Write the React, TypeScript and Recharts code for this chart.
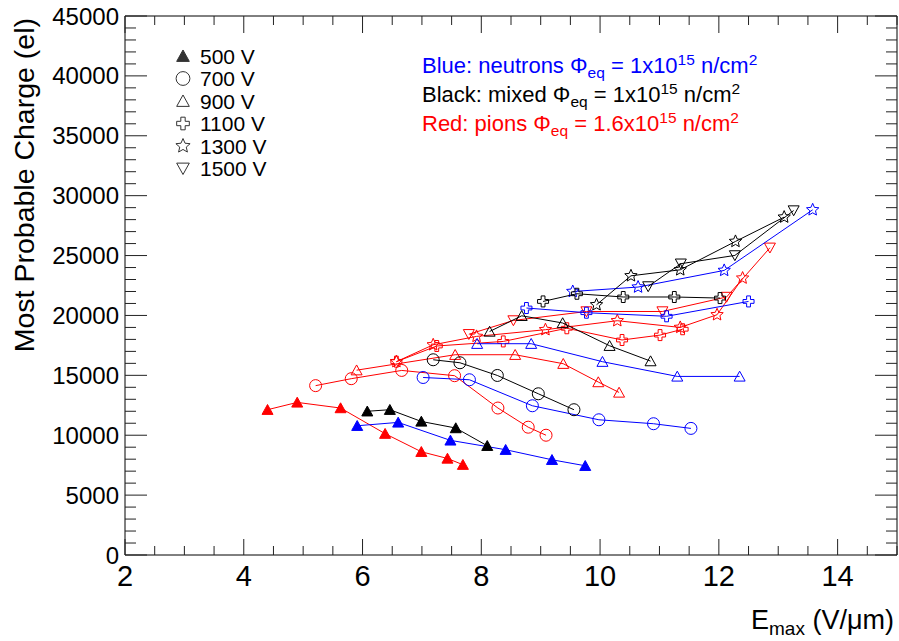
import { Scatter, ScatterChart, XAxis, YAxis } from "recharts";

const FONT = '"Liberation Sans", Arial, Helvetica, sans-serif';
const BLUE = "#0000ff";
const BLACK = "#000000";
const RED = "#ff0000";

// [E_max (V/um), most probable charge (el)]
const blue500 = [[5.91, 10790], [6.6, 11070], [7.48, 9570], [8.41, 8790], [9.19, 7950], [9.75, 7450]];
const black500 = [[6.08, 12000], [6.46, 12130], [6.99, 11150], [7.57, 10600], [8.1, 9120]];
const red500 = [[4.4, 12130], [4.9, 12740], [5.63, 12270], [6.38, 10130], [6.99, 8620], [7.43, 8060], [7.69, 7540]];

const blue700 = [[7.02, 14820], [7.8, 14630], [8.86, 12460], [9.98, 11290], [10.9, 10960], [11.53, 10570]];
const black700 = [[7.19, 16300], [7.64, 16050], [8.27, 14990], [8.96, 13460], [9.56, 12130]];
const red700 = [[5.21, 14140], [5.81, 14720], [6.66, 15410], [7.55, 14970], [8.28, 12270], [8.79, 10670], [9.09, 10000]];

const blue900 = [[7.93, 17640], [8.84, 17640], [10.04, 16140], [11.3, 14910], [12.35, 14910]];
const black900 = [[8.14, 18660], [8.68, 19970], [9.37, 19370], [10.16, 17470], [10.85, 16190]];
const red900 = [[5.9, 15430], [7.56, 16720], [8.57, 16720], [9.38, 15970], [9.97, 14440], [10.32, 13570]];

const blue1100 = [[8.76, 20620], [9.77, 20230], [11.12, 19930], [12.5, 21170]];
const black1100 = [[9.04, 21170], [9.61, 21810], [10.39, 21540], [11.25, 21540], [12.02, 21450]];
const red1100 = [[6.57, 16140], [7.25, 17450], [8.37, 17830], [9.44, 18930], [10.37, 17950], [11.01, 18360], [11.39, 18850]];

const blue1300 = [[9.54, 22000], [10.64, 22370], [12.09, 23760], [13.58, 28820]];
const black1300 = [[9.94, 20890], [10.52, 23310], [11.35, 23810], [12.28, 26180], [13.1, 28210]];
const red1300 = [[6.57, 16140], [7.19, 17550], [7.92, 18250], [9.08, 18810], [10.29, 19560], [11.35, 19000], [11.97, 20060], [12.4, 23120]];

const black1500 = [[10.81, 22420], [11.36, 24320], [12.27, 25010], [13.26, 28760]];
const red1500 = [[7.79, 18430], [8.54, 19580], [9.77, 20330], [11.05, 20330], [12.13, 21540], [12.86, 25650]];

const legendLabels = ["500 V", "700 V", "900 V", "1100 V", "1300 V", "1500 V"];
const legendMarkers = ["triFilled", "circle", "tri", "cross", "star", "triDown"];

const xTickLabels = [2, 4, 6, 8, 10, 12, 14];
const yTickLabels = [0, 5000, 10000, 15000, 20000, 25000, 30000, 35000, 40000, 45000];
const xTicks = Array.from({ length: 27 }, (_, i) => 2 + i * 0.5);
const yTicks = Array.from({ length: 46 }, (_, i) => i * 1000);

const series = [
  { id: "red500", data: red500, color: RED, marker: "triFilled" },
  { id: "red700", data: red700, color: RED, marker: "circle" },
  { id: "red900", data: red900, color: RED, marker: "tri" },
  { id: "red1100", data: red1100, color: RED, marker: "cross" },
  { id: "red1300", data: red1300, color: RED, marker: "star" },
  { id: "red1500", data: red1500, color: RED, marker: "triDown" },
  { id: "blue500", data: blue500, color: BLUE, marker: "triFilled" },
  { id: "blue700", data: blue700, color: BLUE, marker: "circle" },
  { id: "blue900", data: blue900, color: BLUE, marker: "tri" },
  { id: "blue1100", data: blue1100, color: BLUE, marker: "cross" },
  { id: "blue1300", data: blue1300, color: BLUE, marker: "star" },
  { id: "black500", data: black500, color: BLACK, marker: "triFilled" },
  { id: "black700", data: black700, color: BLACK, marker: "circle" },
  { id: "black900", data: black900, color: BLACK, marker: "tri" },
  { id: "black1100", data: black1100, color: BLACK, marker: "cross" },
  { id: "black1300", data: black1300, color: BLACK, marker: "star" },
  { id: "black1500", data: black1500, color: BLACK, marker: "triDown" },
];

const toPoints = (arr: number[][]) => arr.map(([x, y]) => ({ x, y }));

function Marker({ kind, cx, cy, color, s = 1 }: any) {
  const r = 5.5 * s;
  if (kind === "triFilled" || kind === "tri") {
    const pts = `${cx - r},${cy + r * 0.85} ${cx + r},${cy + r * 0.85} ${cx},${cy - r * 0.95}`;
    return <polygon points={pts} fill={kind === "tri" ? "none" : color} stroke={color} strokeWidth={1} />;
  }
  if (kind === "triDown") {
    const pts = `${cx - r},${cy - r * 0.85} ${cx + r},${cy - r * 0.85} ${cx},${cy + r * 0.95}`;
    return <polygon points={pts} fill="none" stroke={color} strokeWidth={1} />;
  }
  if (kind === "circle") {
    return <circle cx={cx} cy={cy} r={6 * s} fill="none" stroke={color} strokeWidth={1} />;
  }
  if (kind === "cross") {
    const a = 5.5 * s;
    const b = 1.9 * s;
    const pts = [
      [-b, -a], [b, -a], [b, -b], [a, -b], [a, b], [b, b],
      [b, a], [-b, a], [-b, b], [-a, b], [-a, -b], [-b, -b],
    ].map(([dx, dy]) => `${cx + dx},${cy + dy}`).join(" ");
    return <polygon points={pts} fill="none" stroke={color} strokeWidth={1} />;
  }
  // open star
  const pts = Array.from({ length: 10 }, (_, i) => {
    const ang = -Math.PI / 2 + (i * Math.PI) / 5;
    const rr = i % 2 === 0 ? 6.5 * s : 3 * s;
    return `${cx + rr * Math.cos(ang)},${cy + rr * Math.sin(ang)}`;
  }).join(" ");
  return <polygon points={pts} fill="none" stroke={color} strokeWidth={1} />;
}

const TICK = "#222";

const BottomTick = (props: any) => {
  const { x, y, payload } = props;
  const major = xTickLabels.includes(payload.value);
  return (
    <g>
      <line x1={x} x2={x} y1={y} y2={y - (major ? 16 : 9)} stroke={TICK} />
      {major && (
        <text x={x} y={y + 31} textAnchor="middle" fontSize={29} fontFamily={FONT} fill="#000">
          {payload.value}
        </text>
      )}
    </g>
  );
};

const TopTick = (props: any) => {
  const { x, y, payload } = props;
  const major = xTickLabels.includes(payload.value);
  return <line x1={x} x2={x} y1={y} y2={y + (major ? 17 : 9)} stroke={TICK} />;
};

const LeftTick = (props: any) => {
  const { x, y, payload } = props;
  const major = yTickLabels.includes(payload.value);
  return (
    <g>
      <line x1={x} x2={x + (major ? 22 : 11)} y1={y} y2={y} stroke={TICK} />
      {major && (
        <text x={x - 6} y={y + 8.5} textAnchor="end" fontSize={24} fontFamily={FONT} fill="#000">
          {payload.value}
        </text>
      )}
    </g>
  );
};

const RightTick = (props: any) => {
  const { x, y, payload } = props;
  const major = yTickLabels.includes(payload.value);
  return <line x1={x} x2={x - (major ? 22 : 11)} y1={y} y2={y} stroke={TICK} />;
};

const XTitle = () => (
  <text x={894} y={629} textAnchor="end" fontSize={27} fontFamily={FONT} fill="#000">
    E<tspan fontSize={19} dy={6}>max</tspan>
    <tspan dy={-6}> (V/μm)</tspan>
  </text>
);

const YTitle = () => (
  <text x={34} y={18} transform="rotate(-90 34 18)" textAnchor="end" fontSize={28.5} fontFamily={FONT} fill="#000">
    Most Probable Charge (el)
  </text>
);

const Fluence = ({ y, color, head, value }: any) => (
  <text x={422} y={y} fill={color} fontSize={22} fontFamily={FONT}>
    {head} Φ<tspan fontSize={15.5} dy={5}>eq</tspan>
    <tspan dy={-5}> = {value}x10</tspan>
    <tspan fontSize={15.5} dy={-8}>15</tspan>
    <tspan dy={8}> n/cm</tspan>
    <tspan fontSize={15.5} dy={-8}>2</tspan>
  </text>
);

export default function App() {
  return (
    <div style={{ position: "absolute", left: 0, top: 0, width: 899, height: 641, background: "#fff" }}>
      <ScatterChart width={899} height={641} margin={{ top: 15, right: 1, bottom: 0, left: 0 }}>
        <XAxis
          dataKey="x"
          type="number"
          domain={[2, 15]}
          ticks={xTicks}
          interval={0}
          tickSize={0}
          tickMargin={0}
          tickLine={false}
          tick={BottomTick}
          height={86}
          axisLine={{ stroke: "#000" }}
          allowDataOverflow
          label={{ content: XTitle }}
        />
        <XAxis
          xAxisId="top"
          orientation="top"
          dataKey="x"
          type="number"
          domain={[2, 15]}
          ticks={xTicks}
          interval={0}
          tickSize={0}
          tickMargin={0}
          tickLine={false}
          tick={TopTick}
          height={1}
          axisLine={{ stroke: "#000" }}
          allowDataOverflow
        />
        <YAxis
          dataKey="y"
          type="number"
          domain={[0, 45000]}
          ticks={yTicks}
          interval={0}
          tickSize={0}
          tickMargin={0}
          tickLine={false}
          tick={LeftTick}
          width={125}
          axisLine={{ stroke: "#000" }}
          allowDataOverflow
          label={{ content: YTitle }}
        />
        <YAxis
          yAxisId="right"
          orientation="right"
          dataKey="y"
          type="number"
          domain={[0, 45000]}
          ticks={yTicks}
          interval={0}
          tickSize={0}
          tickMargin={0}
          tickLine={false}
          tick={RightTick}
          width={1}
          axisLine={{ stroke: "#000" }}
          allowDataOverflow
        />
        {series.map((s) => (
          <Scatter
            key={s.id}
            name={s.id}
            data={toPoints(s.data)}
            line={{ stroke: s.color, strokeWidth: 1 }}
            lineType="joint"
            shape={(p: any) => <Marker kind={s.marker} cx={p.cx} cy={p.cy} color={s.color} />}
            isAnimationActive={false}
          />
        ))}
      </ScatterChart>
      <svg width={899} height={641} style={{ position: "absolute", left: 0, top: 0, pointerEvents: "none" }}>
        {legendLabels.map((label, i) => {
          const cy = 56 + i * 22.5;
          return (
            <g key={label}>
              <Marker kind={legendMarkers[i]} cx={183} cy={cy} color="#333" s={1.15} />
              <text x={200} y={cy + 7.5} fontSize={21} fontFamily={FONT} fill="#000">
                {label}
              </text>
            </g>
          );
        })}
        <Fluence y={73} color={BLUE} head="Blue: neutrons" value="1" />
        <Fluence y={102} color={BLACK} head="Black: mixed" value="1" />
        <Fluence y={131} color={RED} head="Red: pions" value="1.6" />
      </svg>
    </div>
  );
}
